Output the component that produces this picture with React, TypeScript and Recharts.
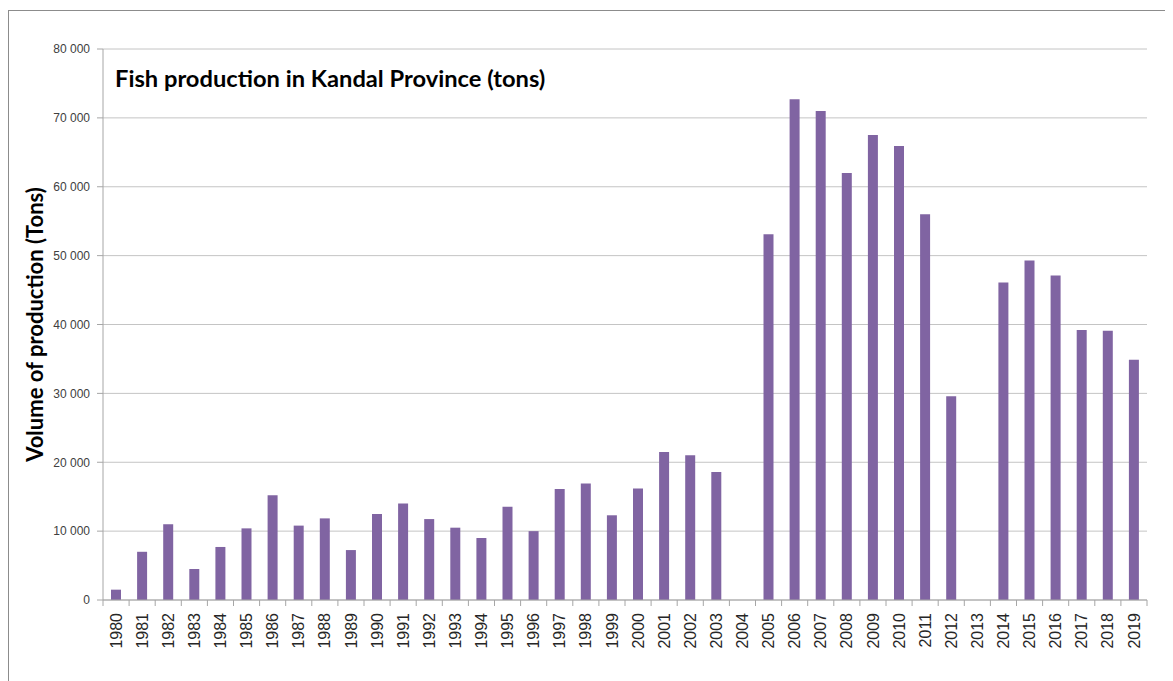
import React from "react";
import { Bar, BarChart, CartesianGrid, XAxis, YAxis } from "recharts";

const years = [
    "1980", "1981", "1982", "1983", "1984", "1985", "1986", "1987", "1988", "1989",
    "1990", "1991", "1992", "1993", "1994", "1995", "1996", "1997", "1998", "1999",
    "2000", "2001", "2002", "2003", "2004", "2005", "2006", "2007", "2008", "2009",
    "2010", "2011", "2012", "2013", "2014", "2015", "2016", "2017", "2018", "2019",
];

// tons per year (2004 and 2013 have no bar)
const volumes = [
    1500, 7000, 11000, 4500, 7700, 10400, 15200, 10800, 11850, 7250,
    12500, 14000, 11750, 10500, 9000, 13550, 10000, 16100, 16900, 12300,
    16200, 21500, 21000, 18600, null, 53100, 72700, 71000, 62000, 67500,
    65900, 56000, 29600, null, 46100, 49300, 47100, 39200, 39100, 34900,
];

const yTicks = [0, 10000, 20000, 30000, 40000, 50000, 60000, 70000, 80000];

const title = "Fish production in Kandal Province (tons)";
const yLabel = "Volume of production (Tons)";

const data = years.map((year, i) => ({ year, volume: volumes[i] }));

const fmt = (v: number) => (v === 0 ? "0" : `${v / 1000} 000`);

const HALF_BAND = 1044 / years.length / 2;

const YearTick = (props: any) => {
    const { x, y, payload, index } = props;
    return (
        <g>
            <line x1={x - HALF_BAND} x2={x - HALF_BAND} y1={y} y2={y + 6} stroke="#a6a6a6" />
            {index === years.length - 1 && (
                <line x1={x + HALF_BAND} x2={x + HALF_BAND} y1={y} y2={y + 6} stroke="#a6a6a6" />
            )}
            <text
                x={x}
                y={y + 13}
                dy="0.35em"
                textAnchor="end"
                transform={`rotate(-90, ${x}, ${y + 13})`}
                fontSize={16}
                fontFamily="Liberation Sans, Arial, sans-serif"
                fill="#262626"
            >
                {payload.value}
            </text>
        </g>
    );
};

export default function App() {
    return (
        <div
            style={{
                position: "relative",
                top: 2,
                width: 1170,
                height: 680,
                border: "1px solid #8c8c8c",
                background: "#fff",
            }}
        >
            <BarChart width={1160} height={668} data={data} margin={{ top: 38, right: 22, bottom: 19, left: 0 }}>
                <CartesianGrid vertical={false} stroke="#c4c4c4" />
                <XAxis
                    dataKey="year"
                    interval={0}
                    height={60}
                    tickLine={false}
                    tickSize={0}
                    tickMargin={0}
                    axisLine={{ stroke: "#a6a6a6" }}
                    tick={<YearTick />}
                />
                <YAxis
                    width={94}
                    domain={[0, 80000]}
                    ticks={yTicks}
                    tickFormatter={fmt}
                    tickSize={6}
                    tickMargin={7}
                    axisLine={{ stroke: "#a6a6a6" }}
                    tickLine={{ stroke: "#a6a6a6" }}
                    tick={{ fontSize: 12, fill: "#404040", fontFamily: "Liberation Sans, Arial, sans-serif" }}
                    label={{
                        value: yLabel,
                        angle: -90,
                        position: "insideLeft",
                        offset: 26,
                        style: {
                            textAnchor: "middle",
                            fontSize: 22,
                            fontWeight: 700,
                            fontFamily: "Lato, sans-serif",
                            fill: "#000",
                        },
                    }}
                />
                <Bar dataKey="volume" fill="#8064a2" barSize={10} isAnimationActive={false} />
            </BarChart>
            <div
                style={{
                    position: "absolute",
                    left: 106,
                    top: 55,
                    fontFamily: "Lato, sans-serif",
                    fontWeight: 700,
                    fontSize: 23.7,
                    lineHeight: "24px",
                    color: "#000",
                }}
            >
                {title}
            </div>
        </div>
    );
}
